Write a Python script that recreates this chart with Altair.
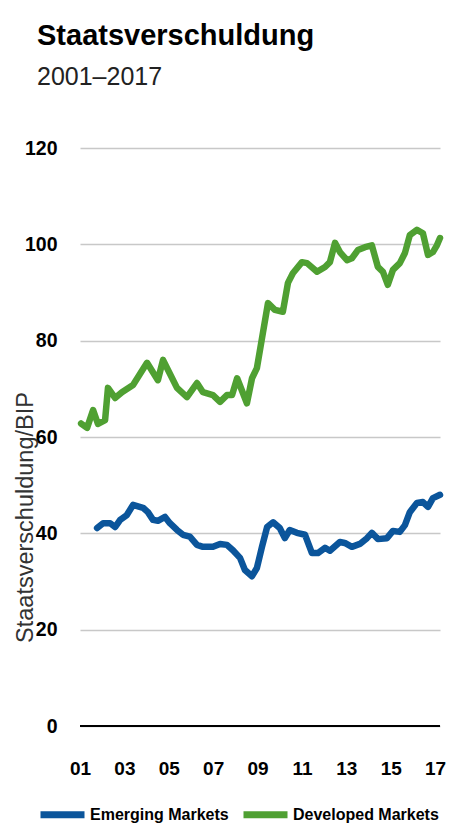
import altair as alt
import pandas as pd

dev_years = [2001.05, 2001.32, 2001.59, 2001.81, 2002.13, 2002.26, 2002.58, 2002.89, 2003.39, 2004.02,
             2004.51, 2004.74, 2005.37, 2005.82, 2006.27, 2006.54, 2006.99, 2007.31, 2007.62, 2007.85,
             2008.08, 2008.52, 2008.75, 2008.97, 2009.24, 2009.47, 2009.78, 2010.14, 2010.37, 2010.59,
             2011.0, 2011.23, 2011.68, 2012.04, 2012.26, 2012.49, 2012.71, 2013.03, 2013.25, 2013.52,
             2013.84, 2014.15, 2014.42, 2014.65, 2014.87, 2015.1, 2015.41, 2015.64, 2015.86, 2016.18,
             2016.45, 2016.68, 2016.9, 2017.08, 2017.22]
dev_values = [62.8, 61.9, 65.6, 62.7, 63.5, 70.2, 68.1, 69.3, 70.8, 75.4,
              71.8, 76.0, 70.2, 68.3, 71.2, 69.3, 68.7, 67.3, 68.7, 68.7,
              72.2, 67.0, 72.2, 74.3, 81.6, 87.8, 86.4, 86.0, 92.0, 94.0,
              96.3, 96.1, 94.3, 95.3, 96.3, 100.3, 98.4, 96.7, 97.1, 98.8,
              99.4, 99.8, 95.3, 94.3, 91.6, 94.7, 96.1, 98.2, 101.9, 103.0,
              102.3, 97.8, 98.4, 99.8, 101.3]

em_years = [2001.77, 2002.04, 2002.36, 2002.58, 2002.81, 2003.11, 2003.39, 2003.84, 2004.06, 2004.29,
            2004.51, 2004.83, 2005.05, 2005.37, 2005.64, 2005.95, 2006.27, 2006.54, 2006.99, 2007.31,
            2007.62, 2007.89, 2008.21, 2008.43, 2008.75, 2008.97, 2009.2, 2009.43, 2009.7, 2010.0,
            2010.23, 2010.45, 2010.77, 2011.14, 2011.45, 2011.72, 2012.04, 2012.26, 2012.71, 2012.93,
            2013.25, 2013.61, 2013.93, 2014.15, 2014.42, 2014.83, 2015.1, 2015.41, 2015.64, 2015.86,
            2016.18, 2016.45, 2016.68, 2016.9, 2017.22]
em_values = [41.1, 42.1, 42.1, 41.3, 42.8, 43.8, 45.9, 45.3, 44.4, 42.8,
             42.6, 43.4, 42.1, 40.7, 39.7, 39.3, 37.6, 37.2, 37.2, 37.8,
             37.6, 36.5, 34.9, 32.4, 31.1, 32.8, 37.2, 41.3, 42.3, 41.1,
             39.0, 40.7, 40.1, 39.7, 35.9, 35.9, 37.0, 36.4, 38.2, 38.0,
             37.2, 37.8, 39.0, 40.1, 38.8, 39.0, 40.5, 40.3, 41.7, 44.4,
             46.3, 46.5, 45.5, 47.3, 48.0]

series_names = ["Emerging Markets", "Developed Markets"]
series_colors = ["#0b559b", "#4fa032"]
y_ticks = [0, 20, 40, 60, 80, 100, 120]
x_ticks = [2001, 2003, 2005, 2007, 2009, 2011, 2013, 2015, 2017]

df = pd.concat([
    pd.DataFrame({"Jahr": em_years, "Wert": em_values, "Serie": series_names[0]}),
    pd.DataFrame({"Jahr": dev_years, "Wert": dev_values, "Serie": series_names[1]}),
])

FONT = "Liberation Sans, Arial, sans-serif"

zero_df = pd.DataFrame({"y": [0]})

lines = alt.Chart(df).mark_line(strokeWidth=6.5, strokeJoin="round", strokeCap="round").encode(
    x=alt.X("Jahr:Q",
            scale=alt.Scale(domain=[2001, 2017.22], nice=False, zero=False),
            axis=alt.Axis(values=x_ticks, labelExpr="slice(toString(datum.value), 2)",
                          grid=False, ticks=False, tickSize=0, domain=False,
                          labelFlush=False, labelOverlap=False,
                          labelFont=FONT, labelFontWeight="bold", labelFontSize=19,
                          labelColor="#000000", labelPadding=33, title=None)),
    y=alt.Y("Wert:Q",
            scale=alt.Scale(domain=[0, 120], nice=False),
            axis=alt.Axis(values=y_ticks, grid=True, gridColor="#c8c8c8", gridWidth=1.5,
                          ticks=False, tickSize=0, domain=False,
                          labelFont=FONT, labelFontWeight="bold", labelFontSize=19.5,
                          labelColor="#000000", labelPadding=23,
                          title="Staatsverschuldung/BIP", titleFont=FONT,
                          titleFontWeight="normal", titleFontSize=23.5, titleColor="#333333",
                          titleY=369, titleX=-48, titleBaseline="alphabetic")),
    color=alt.Color("Serie:N",
                    scale=alt.Scale(domain=series_names, range=series_colors),
                    legend=alt.Legend(title=None, orient="none", direction="horizontal",
                                      legendX=-43, legendY=641, padding=0,
                                      symbolType="stroke", symbolStrokeWidth=7, symbolSize=1936,
                                      labelFont=FONT, labelFontWeight="bold", labelFontSize=16,
                                      labelColor="#000000", labelOffset=2, columnPadding=0)),
)

zero = alt.Chart(zero_df).mark_rule(color="#000000", strokeWidth=2).encode(y="y:Q")

chart = alt.layer(lines, zero).properties(
    width=360, height=578,
    autosize=alt.AutoSizeParams(type="none"),
    padding={"left": 72, "top": 140, "right": 9, "bottom": 100},
    title=alt.Title("Staatsverschuldung", subtitle="2001–2017", anchor="start", frame="group",
                    dx=-43, offset=48, font=FONT, fontSize=29, fontWeight="bold", color="#000000",
                    subtitleFont=FONT, subtitleFontSize=25, subtitleColor="#222222",
                    subtitlePadding=14),
).configure_view(stroke=None)

chart.save("out.html", embed_options={"renderer": "svg", "actions": False})
